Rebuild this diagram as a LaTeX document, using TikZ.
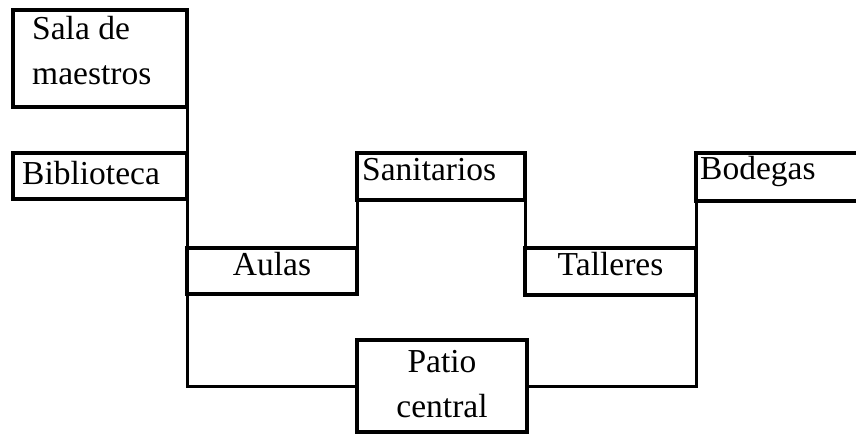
\documentclass[tikz,border=0pt]{standalone}
\usepackage{fontspec}
\setmainfont{Liberation Serif}
\begin{document}
\begin{tikzpicture}[x=1pt,y=-1pt,
  room/.style={draw, line width=3.5pt, rectangle, inner sep=0pt, outer sep=0pt},
  lbl/.style={inner sep=0pt, font=\fontsize{33.5}{40}\selectfont},
  link/.style={line width=3pt}]
\useasboundingbox (0,0) rectangle (856,435);
\clip (0,0) rectangle (856,435);
% rooms
\node[room, minimum width=174pt, minimum height=97pt] (sala) at (100,58.5) {};
\node[room, minimum width=174pt, minimum height=46pt] (bib) at (100,176) {};
\node[room, minimum width=170pt, minimum height=46pt] (aulas) at (272,271) {};
\node[room, minimum width=168pt, minimum height=47pt] (sanit) at (441,176.5) {};
\node[room, minimum width=171pt, minimum height=47pt] (talleres) at (610.5,271.5) {};
\node[room, minimum width=185pt, minimum height=48pt] (bodegas) at (788.5,177) {};
\node[room, minimum width=170pt, minimum height=92pt] (patio) at (442,386) {};
% labels
\node[lbl, anchor=base west] (t1) at (32,40) {Sala de};
\node[lbl, anchor=base west] (t2) at (32,85) {maestros};
\node[lbl, anchor=base west] (t3) at (22,185) {Biblioteca};
\node[lbl, anchor=base] (t4) at (272,276) {Aulas};
\node[lbl, anchor=base west] (t5) at (362,181) {Sanitarios};
\node[lbl, anchor=base west] (t7) at (700,180) {Bodegas};
\node[lbl, anchor=base] (t6) at (610.5,276) {Talleres};
\node[lbl, anchor=base] (t8) at (442,372) {Patio};
\node[lbl, anchor=base] (t9) at (442,417) {central};
% connectors
\draw[link] (sala.south east) -- (bib.north east);
\draw[link] (bib.south east) -- (aulas.north west);
\draw[link] (aulas.south west) -- (aulas.south west |- patio.west) -- (patio.west);
\draw[link] (aulas.north east) -- (sanit.south west);
\draw[link] (sanit.south east) -- (talleres.north west);
\draw[link] (talleres.north east) -- (bodegas.south west);
\draw[link] (talleres.south east) -- (talleres.south east |- patio.east) -- (patio.east);
\end{tikzpicture}
\end{document}
